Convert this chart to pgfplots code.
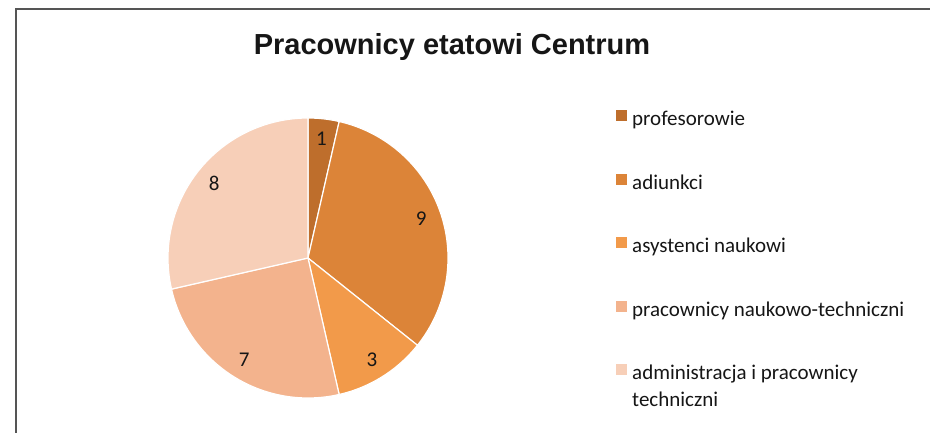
\documentclass[border=0pt]{standalone}
\usepackage{fontspec}
\setmainfont{Carlito}
\newfontfamily\arialb{Liberation Sans}
\usepackage{pgfplots}
\pgfplotsset{compat=1.18}

\definecolor{cA}{HTML}{BE6E2C}
\definecolor{cB}{HTML}{DC8438}
\definecolor{cC}{HTML}{F29A4A}
\definecolor{cD}{HTML}{F3B38D}
\definecolor{cE}{HTML}{F7CFB8}
\definecolor{frame}{HTML}{555555}
\definecolor{txt}{HTML}{161616}

\newcommand\admlab{\begin{tabular}[t]{@{}l@{}}administracja i pracownicy\\ techniczni\end{tabular}}
\newcommand\lblfont{\fontsize{21}{27}\selectfont}

% pie geometry (axis units = pixels of the reference)
\def\cx{308}
\def\cy{175}
\def\rr{140}
\def\total{28}
\def\cum{0}

% one slice: value, colour, legend text
\newcommand\slice[3]{%
  \pgfmathsetmacro\aS{90-360*\cum/\total}%
  \pgfmathsetmacro\aE{90-360*(\cum+#1)/\total}%
  \pgfmathsetmacro\aM{(\aS+\aE)/2}%
  \pgfmathsetmacro\lx{\cx+120*cos(\aM)}%
  \pgfmathsetmacro\ly{\cy+120*sin(\aM)}%
  \edef\temp{%
    \noexpand\addplot[fill=#2, draw=white, line width=1.2pt, line join=round,
        domain=\aE:\aS, samples=90, variable=\noexpand\t]
      ({\cx+\rr*cos(\noexpand\t)},{\cy+\rr*sin(\noexpand\t)}) -- (axis cs:\cx,\cy) -- cycle;
    \noexpand\addlegendentry{\unexpanded{#3}}
    \noexpand\node[text=txt] at (axis cs:\lx,\ly) {\noexpand\lblfont #1};
  }%
  \temp
  \pgfmathsetmacro\cum{\cum+#1}%
}

\begin{document}
\begin{tikzpicture}
\begin{axis}[
    width=930pt, height=433pt, scale only axis,
    xmin=0, xmax=930, ymin=0, ymax=433,
    hide axis, clip=false,
    legend cell align=left,
    legend image code/.code={\path[#1,draw=none] (0pt,-0.5pt) rectangle (11pt,10.5pt);},
    legend style={
        at={(616/930,323/433)}, anchor=north west,
        draw=none, fill=none, inner sep=0pt,
        font=\lblfont, text=txt,
        row sep=43pt,
        nodes={inner sep=0pt, text height=15pt, text depth=5pt},
        /tikz/every odd column/.append style={column sep=5pt},
    },
]
\slice{1}{cA}{profesorowie}
\slice{9}{cB}{adiunkci}
\slice{3}{cC}{asystenci naukowi}
\slice{7}{cD}{pracownicy naukowo-techniczni}
\slice{8}{cE}{\admlab}

\node[anchor=base, text=txt, font=\arialb\bfseries\fontsize{29}{34}\selectfont]
  at (axis cs:452,378) {Pracownicy etatowi Centrum};

\draw[frame, line width=2pt] (axis cs:16,0) -- (axis cs:16,424) -- (axis cs:930,424);
\end{axis}
\pgfresetboundingbox
\useasboundingbox (0,0) rectangle (930pt,433pt);
\end{tikzpicture}
\end{document}
